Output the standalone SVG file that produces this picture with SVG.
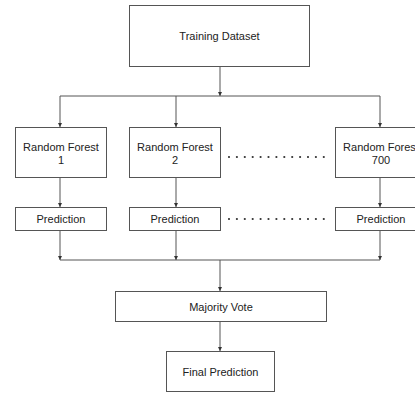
<svg xmlns="http://www.w3.org/2000/svg" width="415" height="393" viewBox="0 0 415 393">
<style>
.box{fill:#fff;stroke:#555;stroke-width:1}
.t{font-family:"Liberation Sans",Arial,sans-serif;font-size:11px;fill:#222;text-anchor:middle}
.c{fill:none;stroke:#555;stroke-width:1}
.dots{fill:none;stroke:#333;stroke-width:2.2;stroke-linecap:round;stroke-dasharray:0 7.9}
</style>
<defs>
<marker id="a" markerWidth="4" markerHeight="4" refX="4" refY="2" orient="auto" markerUnits="userSpaceOnUse">
<path d="M0,0 L4,2 L0,4 z" fill="#333"/>
</marker>
</defs>
<rect width="415" height="393" fill="#fff"/>
<g id="connectors">
<path class="c" d="M220,66 V96" marker-end="url(#a)"/>
<path class="c" d="M60,96 H380"/>
<path class="c" d="M60,96 V127" marker-end="url(#a)"/>
<path class="c" d="M176,96 V127" marker-end="url(#a)"/>
<path class="c" d="M380,96 V127" marker-end="url(#a)"/>
<path class="c" d="M60,177 V207" marker-end="url(#a)"/>
<path class="c" d="M176,177 V207" marker-end="url(#a)"/>
<path class="c" d="M380,177 V207" marker-end="url(#a)"/>
<path class="c" d="M60,230 V260" marker-end="url(#a)"/>
<path class="c" d="M176,230 V260" marker-end="url(#a)"/>
<path class="c" d="M380,230 V260" marker-end="url(#a)"/>
<path class="c" d="M60,260 H380"/>
<path class="c" d="M220,260 V291" marker-end="url(#a)"/>
<path class="c" d="M220,321 V351" marker-end="url(#a)"/>
<path class="dots" d="M229,157 H324"/>
<path class="dots" d="M229,219 H324"/>
</g>
<g id="training">
<rect class="box" x="129.5" y="5.5" width="180" height="61"/>
<text class="t" x="219.5" y="40">Training Dataset</text>
</g>
<g id="rf1">
<rect class="box" x="15.5" y="127.5" width="91" height="50"/>
<text class="t" x="61" y="151">Random Forest</text>
<text class="t" x="61" y="164">1</text>
</g>
<g id="rf2">
<rect class="box" x="129.5" y="127.5" width="91" height="50"/>
<text class="t" x="175" y="151">Random Forest</text>
<text class="t" x="175" y="164">2</text>
</g>
<g id="rf700">
<rect class="box" x="335.5" y="127.5" width="91" height="50"/>
<text class="t" x="381" y="151">Random Forest</text>
<text class="t" x="381" y="164">700</text>
</g>
<g id="pred1">
<rect class="box" x="15.5" y="207.5" width="91" height="23"/>
<text class="t" x="61" y="223">Prediction</text>
</g>
<g id="pred2">
<rect class="box" x="129.5" y="207.5" width="91" height="23"/>
<text class="t" x="175" y="223">Prediction</text>
</g>
<g id="pred700">
<rect class="box" x="335.5" y="207.5" width="91" height="23"/>
<text class="t" x="381" y="223">Prediction</text>
</g>
<g id="majority">
<rect class="box" x="115.5" y="291.5" width="211" height="30"/>
<text class="t" x="221" y="310.5">Majority Vote</text>
</g>
<g id="final">
<rect class="box" x="166.5" y="351.5" width="108" height="40"/>
<text class="t" x="220.5" y="376">Final Prediction</text>
</g>
</svg>
